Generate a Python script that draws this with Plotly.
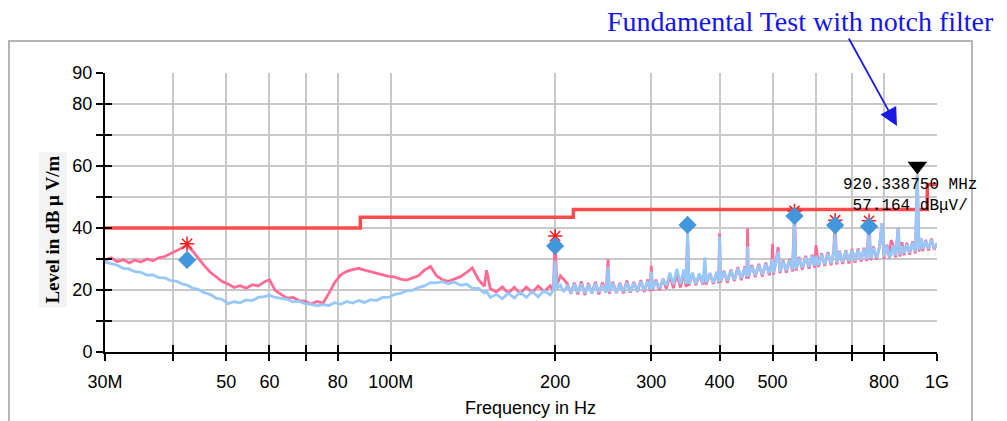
import math
import plotly.graph_objects as go

# ---------------- data ----------------
sweep_mhz = [
    30.0, 30.8, 31.6, 32.4, 33.2, 34.0, 34.9, 35.8, 36.7, 37.6,
    38.6, 39.6, 40.6, 41.6, 42.4, 43.4, 44.4, 45.5, 46.7, 47.9,
    49.1, 50.4, 51.7, 53.0, 54.4, 55.8, 57.2, 58.7, 60.0, 61.5,
    63.0, 64.6, 66.3, 68.0, 69.7, 71.5, 73.3, 75.2, 77.1, 79.0,
    81.0, 83.1, 85.2, 87.4, 89.6, 91.9, 94.2, 96.6, 99.1, 101.6,
    104.2, 106.9, 109.6, 112.4, 115.3, 118.3, 121.3, 124.4, 127.6, 130.9,
    134.2, 137.6, 141.1, 144.7, 148.4, 149.8, 152.2, 156.1, 160.1, 164.2,
    168.4, 172.7, 177.1, 181.6, 186.2, 191.0, 195.9, 198.5, 200.0, 201.5,
    204.5, 207.5, 210.6, 213.7, 216.9, 220.1, 223.4, 226.7, 230.1, 233.5,
    237.0, 240.5, 244.1, 247.7, 250.0, 251.4, 255.1, 258.9, 262.7, 266.6,
    270.6, 274.6, 278.7, 282.8, 287.0, 291.3, 295.6, 298.5, 300.0, 301.5,
    305.9, 310.4, 315.0, 319.7, 324.4, 329.2, 334.1, 339.1, 344.1, 347.5,
    349.5, 351.5, 356.7, 362.0, 367.4, 372.8, 376.0, 378.3, 383.9, 389.6,
    395.4, 398.5, 400.0, 401.5, 407.4, 413.4, 419.5, 425.7, 432.0, 438.4,
    444.9, 448.5, 450.0, 451.5, 458.2, 465.0, 471.9, 478.9, 486.0, 493.2,
    498.5, 500.0, 502.0, 507.5, 512.0, 516.0, 523.0, 530.0, 537.0, 544.0,
    548.5, 552.0, 559.0, 567.0, 575.0, 583.0, 591.0, 597.0, 600.5, 607.0,
    615.0, 623.0, 631.0, 640.0, 647.0, 651.0, 655.0, 663.0, 672.0, 681.0,
    690.0, 699.0, 708.0, 717.0, 726.0, 735.0, 744.0, 751.0, 756.0, 765.0,
    775.0, 785.0, 793.0, 800.0, 810.0, 818.0, 824.0, 830.0, 840.0, 849.0,
    855.0, 863.0, 870.0, 881.0, 891.0, 902.0, 913.0, 920.3, 927.0, 935.0,
    942.0, 953.0, 965.0, 977.0, 988.0, 1000.0,
]

peak_db = [
    29.6, 30.4, 29.1, 29.8, 28.7, 29.6, 29.0, 30.0, 29.4, 30.4,
    30.8, 31.8, 32.6, 33.5, 34.4, 32.6, 30.2, 28.0, 25.8, 24.2,
    22.8, 21.9, 20.8, 21.4, 20.6, 21.7, 21.3, 22.6, 23.3, 19.8,
    18.6, 17.4, 17.6, 16.6, 16.4, 15.5, 16.3, 15.8, 19.0, 22.4,
    24.9, 26.0, 26.6, 27.0, 26.4, 25.9, 25.5, 25.0, 24.4, 24.2,
    23.5, 23.2, 23.8, 24.6, 26.4, 27.6, 24.6, 23.3, 22.8, 23.6,
    24.3, 25.6, 27.1, 23.4, 21.2, 26.4, 20.4, 19.4, 21.0, 19.0,
    20.9, 18.9, 21.0, 19.2, 21.3, 19.5, 21.4, 19.8, 37.0, 21.6,
    24.6, 23.4, 22.0, 18.8, 22.4, 18.6, 22.8, 18.4, 22.2, 19.0,
    22.6, 18.6, 22.4, 19.2, 29.9, 18.8, 22.6, 19.0, 22.3, 18.9,
    23.0, 19.2, 22.6, 19.4, 23.2, 19.4, 23.4, 19.6, 27.8, 19.8,
    23.3, 19.9, 23.6, 20.4, 24.8, 20.6, 25.2, 20.8, 25.6, 21.0,
    38.6, 21.4, 25.4, 21.6, 25.0, 21.8, 24.0, 21.8, 25.4, 22.0,
    25.8, 22.2, 38.3, 22.4, 26.2, 22.4, 26.6, 22.9, 27.4, 23.2,
    27.6, 23.6, 39.9, 23.8, 28.0, 24.2, 28.4, 24.4, 28.8, 24.8,
    29.2, 34.9, 25.0, 29.4, 33.8, 25.4, 29.6, 25.6, 30.0, 26.0,
    46.5, 26.2, 30.6, 26.6, 31.0, 26.9, 31.4, 27.2, 34.5, 27.4,
    31.8, 27.8, 32.2, 28.0, 32.4, 43.0, 28.2, 32.6, 28.4, 32.8,
    28.6, 33.2, 28.8, 33.4, 29.2, 33.6, 29.4, 43.0, 29.6, 34.0,
    29.8, 34.2, 41.6, 30.0, 34.6, 30.2, 36.1, 34.8, 30.5, 40.1,
    30.8, 35.4, 31.2, 35.2, 31.4, 35.6, 31.8, 57.2, 32.4, 36.6,
    32.6, 36.2, 32.8, 36.6, 33.0, 35.0,
]

avg_db = [
    29.0, 28.4, 28.0, 27.0, 26.8, 25.9, 25.7, 24.8, 24.9, 24.0,
    23.9, 23.0, 22.8, 21.9, 21.6, 20.6, 20.2, 19.2, 18.6, 17.4,
    17.0, 15.6, 16.2, 15.9, 16.8, 16.6, 17.6, 17.9, 18.3, 17.6,
    17.2, 17.0, 16.2, 16.4, 15.6, 15.4, 14.9, 15.3, 15.0, 15.9,
    15.4, 16.3, 15.8, 16.6, 16.0, 16.9, 16.6, 17.6, 17.6, 18.6,
    18.9, 19.8, 19.9, 20.8, 21.3, 22.4, 22.3, 22.7, 22.0, 22.6,
    21.5, 21.9, 20.6, 20.5, 19.0, 19.5, 17.6, 18.6, 17.2, 19.0,
    17.4, 19.3, 17.6, 19.5, 17.8, 19.8, 18.4, 20.0, 29.5, 20.4,
    21.5, 19.4, 21.6, 19.0, 21.9, 19.2, 22.0, 19.0, 21.8, 18.9,
    22.1, 19.3, 21.7, 19.1, 27.5, 19.4, 22.2, 19.2, 21.9, 19.4,
    22.4, 19.5, 22.3, 19.6, 22.7, 19.9, 22.8, 20.1, 25.9, 20.3,
    22.9, 20.6, 23.4, 21.4, 25.6, 21.8, 26.8, 22.0, 26.6, 22.0,
    38.8, 22.0, 25.6, 22.0, 25.3, 22.2, 30.5, 22.3, 25.4, 22.4,
    25.7, 22.6, 37.2, 22.8, 25.9, 23.0, 26.3, 23.4, 27.0, 23.8,
    27.2, 24.2, 34.0, 24.4, 27.6, 24.7, 28.1, 25.0, 28.5, 25.4,
    28.8, 30.0, 25.6, 29.0, 32.4, 25.9, 29.3, 26.3, 29.6, 26.6,
    42.0, 26.8, 30.2, 27.2, 30.6, 27.5, 31.0, 27.8, 31.0, 28.0,
    31.4, 28.3, 31.8, 28.6, 32.0, 38.3, 28.8, 32.3, 29.0, 32.5,
    29.3, 32.8, 29.4, 33.0, 29.8, 33.2, 30.0, 39.5, 30.2, 33.6,
    30.4, 33.8, 41.6, 30.7, 34.2, 30.9, 31.2, 34.4, 31.2, 40.1,
    31.4, 34.2, 31.8, 34.8, 32.0, 35.2, 32.4, 57.2, 33.0, 36.6,
    33.2, 35.8, 33.4, 36.2, 33.6, 34.6,
]

limit_mhz = [30, 88, 216, 960, 1000]
limit_db = [40, 43.5, 46, 54, 54]

qp_mhz = [42.4, 200.0, 349.5, 548.5, 651.0, 751.0]
qp_db = [29.7, 34.2, 41.0, 43.9, 40.9, 40.5]

pk_mhz = [42.4, 200.0, 548.5, 651.0, 751.0]
pk_db = [34.9, 37.4, 45.5, 42.5, 42.3]

mk_mhz = 920.33875
mk_db = 57.164

x_tickvals = [30, 40, 50, 60, 70, 80, 100, 200, 300, 400, 500, 600, 700, 800, 1000]
x_ticktext = ["30M", "", "50", "60", "", "80", "100M", "200", "300", "400", "500", "", "", "800", "1G"]
y_tickvals = [0, 10, 20, 30, 40, 50, 60, 70, 80, 90]
y_ticktext = ["0", "", "20", "", "40", "", "60", "", "80", "90"]

assert len(sweep_mhz) == len(peak_db) == len(avg_db)

# ---------------- styles ----------------
GRID = "#c8c8c8"
PINK = "#ff6b93"
LBLUE = "#96c8fa"
DIAM = "#4296dc"
LIMIT = "#ff4b4b"
TITLE_BLUE = "#1414f0"
TICKFONT = dict(family="Liberation Sans, Arial, sans-serif", size=18, color="black")

fig = go.Figure()

fig.add_trace(go.Scatter(x=limit_mhz, y=limit_db, mode="lines", line=dict(color=LIMIT, width=3.5, shape="hv"),
                         showlegend=False, hoverinfo="skip"))
fig.add_trace(go.Scatter(x=sweep_mhz, y=peak_db, mode="lines", line=dict(color=PINK, width=2.8),
                         showlegend=False))
fig.add_trace(go.Scatter(x=sweep_mhz, y=avg_db, mode="lines", line=dict(color=LBLUE, width=2.8),
                         showlegend=False))
fig.add_trace(go.Scatter(x=pk_mhz, y=pk_db, mode="markers",
                         marker=dict(symbol="asterisk-open", size=12, color="#ff1a1a",
                                     line=dict(color="#ff1a1a", width=1.5)),
                         showlegend=False))
fig.add_trace(go.Scatter(x=qp_mhz, y=qp_db, mode="markers",
                         marker=dict(symbol="diamond", size=14, color=DIAM, line=dict(width=0)),
                         showlegend=False))
# marker triangle: tip sits on the marker level (offset = half symbol height in dB)
tri_offset = 2.8
fig.add_trace(go.Scatter(x=[mk_mhz], y=[mk_db + tri_offset], mode="markers",
                         marker=dict(symbol="triangle-down", size=17, color="black", line=dict(width=0)),
                         showlegend=False))
# helper trace for the secondary (inside tick) axes
fig.add_trace(go.Scatter(x=[mk_mhz], y=[mk_db], xaxis="x2", yaxis="y2", mode="markers",
                         marker=dict(opacity=0), showlegend=False, hoverinfo="skip"))

xr = [math.log10(30), math.log10(1000)]

fig.update_layout(
    width=1007, height=421,
    margin=dict(l=105, r=70, t=73, b=69),
    paper_bgcolor="white", plot_bgcolor="white",
    showlegend=False,
    xaxis=dict(type="log", range=xr, tickvals=x_tickvals, ticktext=x_ticktext,
               showgrid=True, gridcolor=GRID, gridwidth=1.5, zeroline=False,
               showline=True, linecolor="black", linewidth=2,
               ticks="outside", ticklen=7, tickwidth=1.5, tickcolor="black",
               tickfont=TICKFONT, ticklabelstandoff=5),
    xaxis2=dict(type="log", range=xr, overlaying="x", anchor="y", side="bottom",
                tickvals=x_tickvals, showticklabels=False, showgrid=False, zeroline=False,
                showline=False, ticks="inside", ticklen=7, tickwidth=1.5, tickcolor="black"),
    yaxis=dict(range=[0, 90], tickvals=y_tickvals, ticktext=y_ticktext,
               showgrid=True, gridcolor=GRID, gridwidth=1.5, zeroline=False,
               showline=True, linecolor="black", linewidth=2,
               ticks="outside", ticklen=7, tickwidth=1.5, tickcolor="black",
               tickfont=TICKFONT),
    yaxis2=dict(range=[0, 90], overlaying="y", anchor="x", side="left",
                tickvals=y_tickvals, showticklabels=False, showgrid=False, zeroline=False,
                showline=False, ticks="inside", ticklen=7, tickwidth=1.5, tickcolor="black"),
)

# outer frame
fig.add_shape(type="rect", xref="paper", yref="paper", x0=-0.1154, x1=1.042, y0=-0.45, y1=1.1147,
              line=dict(color="#b4b4b4", width=2), fillcolor="rgba(0,0,0,0)", layer="below")

# axis titles
fig.add_annotation(xref="paper", yref="paper", x=-0.0631, y=0.437, xanchor="center", yanchor="middle",
                   text="Level in dB μ V/m", textangle=-90, showarrow=False, bgcolor="#f3f3f3", borderpad=3,
                   font=dict(family="Liberation Serif, Times New Roman, serif", size=19, color="black", weight="bold"))
fig.add_annotation(xref="paper", yref="paper", x=0.511, y=-0.2007, xanchor="center", yanchor="middle",
                   text="Frequency in Hz", showarrow=False,
                   font=dict(family="Liberation Sans, Arial, sans-serif", size=18, color="black"))

# heading and arrow
fig.add_annotation(xref="paper", yref="paper", x=0.836, y=1.186, xanchor="center", yanchor="middle",
                   text="Fundamental Test with notch filter", showarrow=False,
                   font=dict(family="Liberation Serif, Times New Roman, serif", size=28, color=TITLE_BLUE))
fig.add_annotation(xref="paper", yref="paper", x=0.9519, y=0.810, text="", showarrow=True,
                   ax=-49, ay=-89, arrowhead=2, arrowsize=2, arrowwidth=1.8, arrowcolor="#1a1ae6")

# marker readout
fig.add_annotation(x=math.log10(mk_mhz), y=mk_db, xref="x", yref="y",
                   text=f"{mk_mhz:.6f} MHz<br>{mk_db:.3f} dBμV/", showarrow=False,
                   xanchor="center", yanchor="top", xshift=-7, yshift=1, align="center",
                   font=dict(family="Liberation Mono, Courier New, monospace", size=16, color="black"))

# remove the default 8px page margin so the figure sits at the window origin
fig.write_html("out.html", config={"displayModeBar": False},
               post_script="document.body.style.margin='0';")
